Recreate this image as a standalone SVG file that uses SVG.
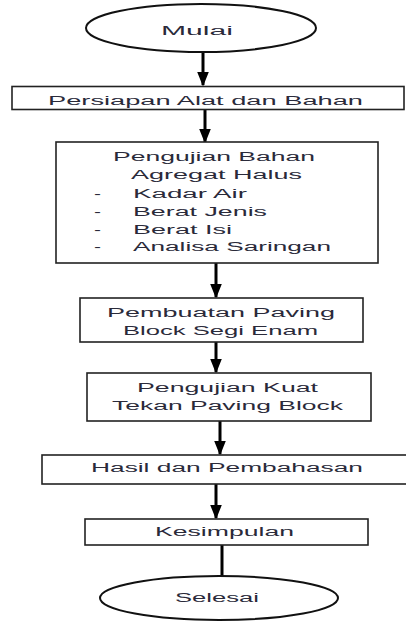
<svg xmlns="http://www.w3.org/2000/svg" width="406" height="621" viewBox="0 0 406 621">
<defs>
<marker id="ah" markerWidth="5" markerHeight="4" refX="4.5" refY="2" orient="auto" markerUnits="strokeWidth">
<path d="M0,0 L5,2 L0,4 Z" fill="#000"/>
</marker>
<style>
.box{fill:#fff;stroke:#222;stroke-width:1.6}
.term{fill:#fff;stroke:#111;stroke-width:2}
.t{font-family:"Liberation Sans",Arial,sans-serif;font-size:12.5px;fill:#2a2a3a}
.c{stroke:#000;stroke-width:3;fill:none}
</style>
</defs>
<rect width="406" height="621" fill="#fff"/>
<g id="connectors">
<line class="c" x1="203" y1="52" x2="203" y2="85" marker-end="url(#ah)"/>
<line class="c" x1="205" y1="110" x2="205" y2="142" marker-end="url(#ah)"/>
<line class="c" x1="216" y1="263" x2="216" y2="297" marker-end="url(#ah)"/>
<line class="c" x1="216" y1="342" x2="216" y2="372" marker-end="url(#ah)"/>
<line class="c" x1="220" y1="421" x2="220" y2="454" marker-end="url(#ah)"/>
<line class="c" x1="216" y1="484" x2="216" y2="518" marker-end="url(#ah)"/>
<line class="c" x1="222" y1="545" x2="222" y2="576"/>
</g>
<g id="mulai">
<ellipse class="term" cx="201" cy="28" rx="115" ry="24"/>
<text class="t" x="161" y="35" textLength="72" lengthAdjust="spacingAndGlyphs">Mulai</text>
</g>
<g id="persiapan">
<rect class="box" x="12" y="86.5" width="392" height="23"/>
<text class="t" x="48" y="105" textLength="315" lengthAdjust="spacingAndGlyphs">Persiapan Alat dan Bahan</text>
</g>
<g id="pengujian-bahan">
<rect class="box" x="56" y="142" width="322" height="121"/>
<text class="t" x="113" y="161" textLength="202" lengthAdjust="spacingAndGlyphs">Pengujian Bahan</text>
<text class="t" x="131" y="179" textLength="171" lengthAdjust="spacingAndGlyphs">Agregat Halus</text>
<text class="t" x="94" y="198" textLength="7" lengthAdjust="spacingAndGlyphs">-</text>
<text class="t" x="133" y="198" textLength="114" lengthAdjust="spacingAndGlyphs">Kadar Air</text>
<text class="t" x="94" y="216" textLength="7" lengthAdjust="spacingAndGlyphs">-</text>
<text class="t" x="133" y="216" textLength="134" lengthAdjust="spacingAndGlyphs">Berat Jenis</text>
<text class="t" x="94" y="234" textLength="7" lengthAdjust="spacingAndGlyphs">-</text>
<text class="t" x="133" y="234" textLength="99" lengthAdjust="spacingAndGlyphs">Berat Isi</text>
<text class="t" x="94" y="251" textLength="7" lengthAdjust="spacingAndGlyphs">-</text>
<text class="t" x="133" y="251" textLength="198" lengthAdjust="spacingAndGlyphs">Analisa Saringan</text>
</g>
<g id="pembuatan">
<rect class="box" x="80" y="298" width="283" height="44"/>
<text class="t" x="107" y="317" textLength="228" lengthAdjust="spacingAndGlyphs">Pembuatan Paving</text>
<text class="t" x="123" y="335" textLength="195" lengthAdjust="spacingAndGlyphs">Block Segi Enam</text>
</g>
<g id="kuat-tekan">
<rect class="box" x="87" y="373" width="284" height="48"/>
<text class="t" x="137" y="392" textLength="181" lengthAdjust="spacingAndGlyphs">Pengujian Kuat</text>
<text class="t" x="112" y="410" textLength="231" lengthAdjust="spacingAndGlyphs">Tekan Paving Block</text>
</g>
<g id="hasil">
<rect class="box" x="42" y="455" width="368" height="29"/>
<text class="t" x="91" y="472" textLength="272" lengthAdjust="spacingAndGlyphs">Hasil dan Pembahasan</text>
</g>
<g id="kesimpulan">
<rect class="box" x="85" y="519" width="283" height="26"/>
<text class="t" x="155" y="536" textLength="139" lengthAdjust="spacingAndGlyphs">Kesimpulan</text>
</g>
<g id="selesai">
<ellipse class="term" cx="219" cy="598" rx="119" ry="22"/>
<text class="t" x="175" y="602" textLength="84" lengthAdjust="spacingAndGlyphs">Selesai</text>
</g>
</svg>
